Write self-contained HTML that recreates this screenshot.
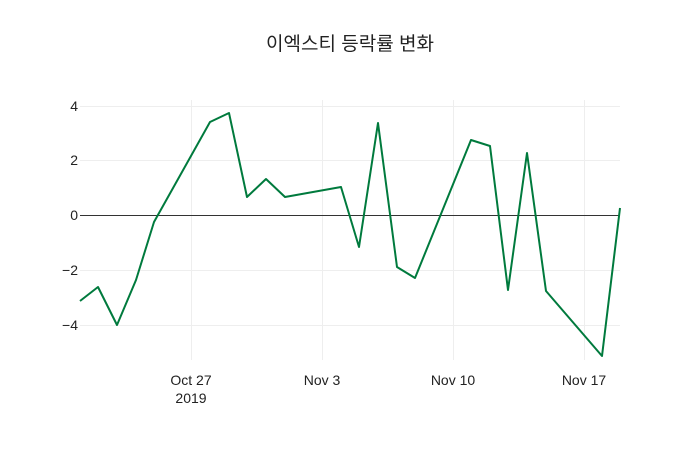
<!DOCTYPE html>
<html><head><meta charset="utf-8"><style>
body{margin:0;background:#fff}
svg{display:block}
text{font-family:"Liberation Sans","Noto Sans CJK KR",sans-serif;fill:#222}
</style></head><body>
<svg width="700" height="450" viewBox="0 0 700 450">
<rect width="700" height="450" fill="#fff"/>
<g stroke="#eee" stroke-width="1">
<line x1="80" x2="620" y1="106.5" y2="106.5"/>
<line x1="80" x2="620" y1="160.5" y2="160.5"/>
<line x1="80" x2="620" y1="270.5" y2="270.5"/>
<line x1="80" x2="620" y1="325.5" y2="325.5"/>
<line x1="191.5" x2="191.5" y1="100" y2="360"/>
<line x1="322.5" x2="322.5" y1="100" y2="360"/>
<line x1="453.5" x2="453.5" y1="100" y2="360"/>
<line x1="584.5" x2="584.5" y1="100" y2="360"/>
</g>
<line x1="80" x2="620" y1="215.5" y2="215.5" stroke="#333" stroke-width="1"/>
<polyline fill="none" stroke="#007a3d" stroke-width="2" stroke-linejoin="round" points="80,301 98,287 117,325 136,280 154,222 210,122 229,113 247,197 266,179 285,197 341,187 359,247 378,123 397,267 415,278 471,140 490,146 508,290 527,153 546,291 602,356 620,208"/>
<g font-size="14" text-anchor="end">
<text x="78" y="111">4</text>
<text x="78" y="165">2</text>
<text x="78" y="220">0</text>
<text x="78" y="275">−2</text>
<text x="78" y="330">−4</text>
</g>
<g font-size="14" text-anchor="middle">
<text x="191" y="385">Oct 27</text>
<text x="191" y="403">2019</text>
<text x="322" y="385">Nov 3</text>
<text x="453" y="385">Nov 10</text>
<text x="584" y="385">Nov 17</text>
</g>
<text x="350" y="50" font-size="19" text-anchor="middle">이엑스티 등락률 변화</text>
</svg>
</body></html>
